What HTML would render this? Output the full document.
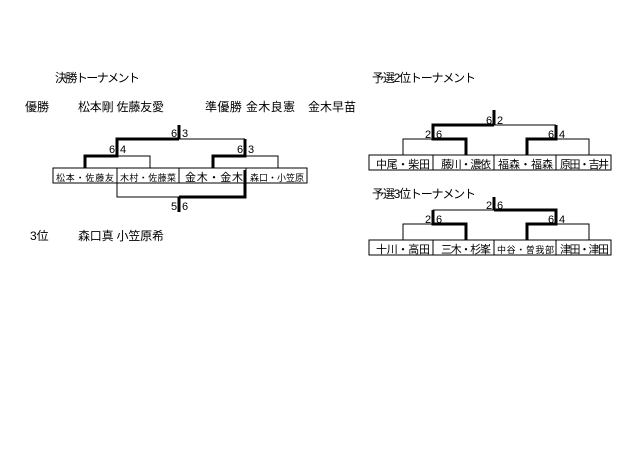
<!DOCTYPE html>
<html><head><meta charset="utf-8"><style>
html,body{margin:0;padding:0;background:#fff;}
svg{display:block}
text{font-family:"Liberation Sans","Noto Sans CJK JP",sans-serif;fill:#000}
</style></head><body>
<svg width="640" height="453" viewBox="0 0 640 453" xmlns="http://www.w3.org/2000/svg">
<g font-size="12">
<text x="55" y="82" textLength="85">決勝トーナメント</text>
<text x="25" y="111">優勝</text>
<text x="78" y="111" textLength="86">松本剛 佐藤友愛</text>
<text x="205" y="111" textLength="90">準優勝 金木良憲</text>
<text x="308" y="111">金木早苗</text>
<text x="30" y="240">3位</text>
<text x="78" y="240" textLength="86">森口真 小笠原希</text>
<text x="372" y="82" textLength="104">予選2位トーナメント</text>
<text x="372" y="198" textLength="104">予選3位トーナメント</text>
</g>
<g fill="none" stroke="#000" stroke-width="1">
<rect x="53" y="168" width="254" height="15"/>
<line x1="117" y1="168" x2="117" y2="183"/><line x1="179" y1="168" x2="179" y2="183"/><line x1="246" y1="168" x2="246" y2="183"/>
<polyline points="117,156 150,156 150,168"/>
<polyline points="245,156 278,156 278,168"/>
<line x1="179" y1="139" x2="245" y2="139"/>
<polyline points="117,183 117,197 179,197"/>
<rect x="369" y="155" width="242" height="15"/>
<line x1="433" y1="155" x2="433" y2="170"/><line x1="494" y1="155" x2="494" y2="170"/><line x1="556" y1="155" x2="556" y2="170"/>
<polyline points="403,155 403,139 433,139"/>
<polyline points="556,139 589,139 589,155"/>
<line x1="494" y1="125" x2="556" y2="125"/>
<rect x="369" y="240" width="242" height="15"/>
<line x1="433" y1="240" x2="433" y2="255"/><line x1="494" y1="240" x2="494" y2="255"/><line x1="556" y1="240" x2="556" y2="255"/>
<polyline points="403,240 403,224 433,224"/>
<polyline points="556,224 589,224 589,240"/>
<line x1="433" y1="210" x2="494" y2="210"/>
</g>
<g fill="none" stroke="#000" stroke-width="3">
<polyline points="85,168 85,156 117,156 117,139 179,139"/>
<line x1="179" y1="125" x2="179" y2="139"/>
<polyline points="213,168 213,156 245,156 245,139"/>
<polyline points="179,197 245,197 245,170"/>
<line x1="179" y1="197" x2="179" y2="212"/>
<polyline points="466,155 466,139 433,139 433,125 494,125"/>
<line x1="494" y1="110" x2="494" y2="125"/>
<polyline points="527,155 527,139 556,139 556,125"/>
<polyline points="466,240 466,224 433,224 433,210"/>
<polyline points="527,240 527,224 556,224 556,210 494,210"/>
<line x1="494" y1="197" x2="494" y2="210"/>
</g>
<g font-size="11">
<text x="171" y="137">6</text><text x="182" y="137">3</text>
<text x="109" y="153">6</text><text x="120" y="153">4</text>
<text x="237" y="153">6</text><text x="248" y="153">3</text>
<text x="171" y="210">5</text><text x="182" y="210">6</text>
<text x="486" y="124">6</text><text x="497" y="124">2</text>
<text x="425" y="138">2</text><text x="436" y="138">6</text>
<text x="548" y="138">6</text><text x="559" y="138">4</text>
<text x="486" y="209">2</text><text x="497" y="209">6</text>
<text x="425" y="223">2</text><text x="436" y="223">6</text>
<text x="548" y="223">6</text><text x="559" y="223">4</text>
</g>
<g font-size="9">
<text x="56" y="181" textLength="58">松本・佐藤友</text>
<text x="120" y="181" textLength="56">木村・佐藤菜</text>
<text x="250" y="181" textLength="54">森口・小笠原</text>
<text x="497" y="253" textLength="57">中谷・曽我部</text>
</g>
<g font-size="11">
<text x="185" y="181" textLength="58">金木・金木</text>
<text x="376" y="168" textLength="54">中尾・柴田</text>
<text x="441" y="168" textLength="50">藤川・濃依</text>
<text x="498" y="168" textLength="55">福森・福森</text>
<text x="560" y="168" textLength="49">原田・吉井</text>
<text x="376" y="253" textLength="54">十川・高田</text>
<text x="441" y="253" textLength="50">三木・杉峯</text>
<text x="560" y="253" textLength="49">津田・津田</text>
</g>
</svg>
</body></html>
